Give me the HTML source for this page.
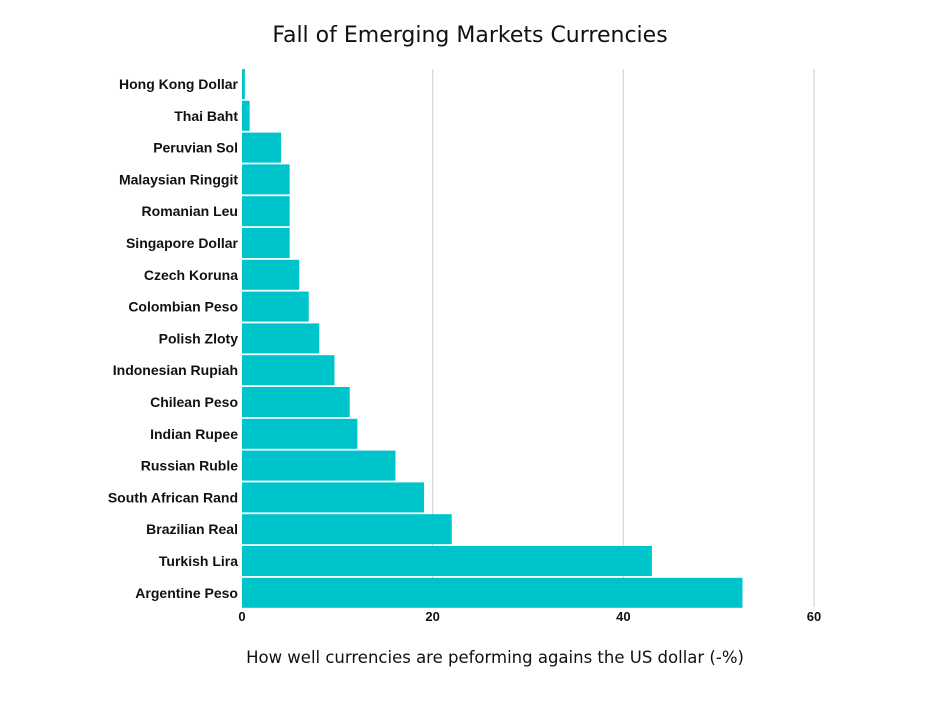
<!DOCTYPE html>
<html><head><meta charset="utf-8"><style>
body{margin:0;background:#fff;}
svg text{font-family:"Liberation Sans",sans-serif;}
</style></head><body>
<svg id="chart" width="939" height="702" xmlns="http://www.w3.org/2000/svg">
<rect width="939" height="702" fill="#fff"/>
<text x="470" y="42" text-anchor="middle" font-size="22" fill="#111" style="font-family:'DejaVu Sans',sans-serif">Fall of Emerging Markets Currencies</text>
<text x="495" y="663" text-anchor="middle" font-size="16.5" fill="#111" style="font-family:'DejaVu Sans',sans-serif">How well currencies are peforming agains the US dollar (-%)</text>
<g id="grid"></g><g id="bars"></g><g id="labels"></g><g id="ticks"></g>
</svg>
<script>
const categories=["Hong Kong Dollar","Thai Baht","Peruvian Sol","Malaysian Ringgit","Romanian Leu","Singapore Dollar","Czech Koruna","Colombian Peso","Polish Zloty","Indonesian Rupiah","Chilean Peso","Indian Rupee","Russian Ruble","South African Rand","Brazilian Real","Turkish Lira","Argentine Peso"];
const values=[0.3,0.8,4.1,5.0,5.0,5.0,6.0,7.0,8.1,9.7,11.3,12.1,16.1,19.1,22.0,43.0,52.5];
const tickValues=[0,20,40,60];
const tickLabels=["0","20","40","60"];
const NS="http://www.w3.org/2000/svg";
const x0=242,pxPer=(814-242)/60,top0=69,step=31.8,barH=30;
function xs(v){return x0+v*pxPer;}
function yc(i){return 84+i*step;}
function mk(t,a,p){const e=document.createElementNS(NS,t);for(const k in a)e.setAttribute(k,a[k]);p.appendChild(e);return e;}
const grid=document.getElementById('grid'),bars=document.getElementById('bars'),labels=document.getElementById('labels'),ticks=document.getElementById('ticks');
tickValues.forEach((v,i)=>{
 if(v>0){const l=mk('line',{x1:xs(v),x2:xs(v),y1:top0,y2:607,stroke:'#d9d9d9','stroke-width':1.3},grid);
 
 }
 const t=mk('text',{x:xs(v),y:621,'text-anchor':'middle','font-size':13,'font-weight':'bold',fill:'#111'},ticks);
 t.textContent=tickLabels[i];
 
 
});
categories.forEach((c,i)=>{
 const r=mk('rect',{x:x0,y:yc(i)-barH/2,width:xs(values[i])-x0,height:barH,fill:'#00c4cc'},bars);
 
 
 const t=mk('text',{x:238,y:yc(i)+5,'text-anchor':'end','font-size':14,'font-weight':'bold',fill:'#111'},labels);
 t.textContent=c;
 
 
});
</script>
</body></html>
